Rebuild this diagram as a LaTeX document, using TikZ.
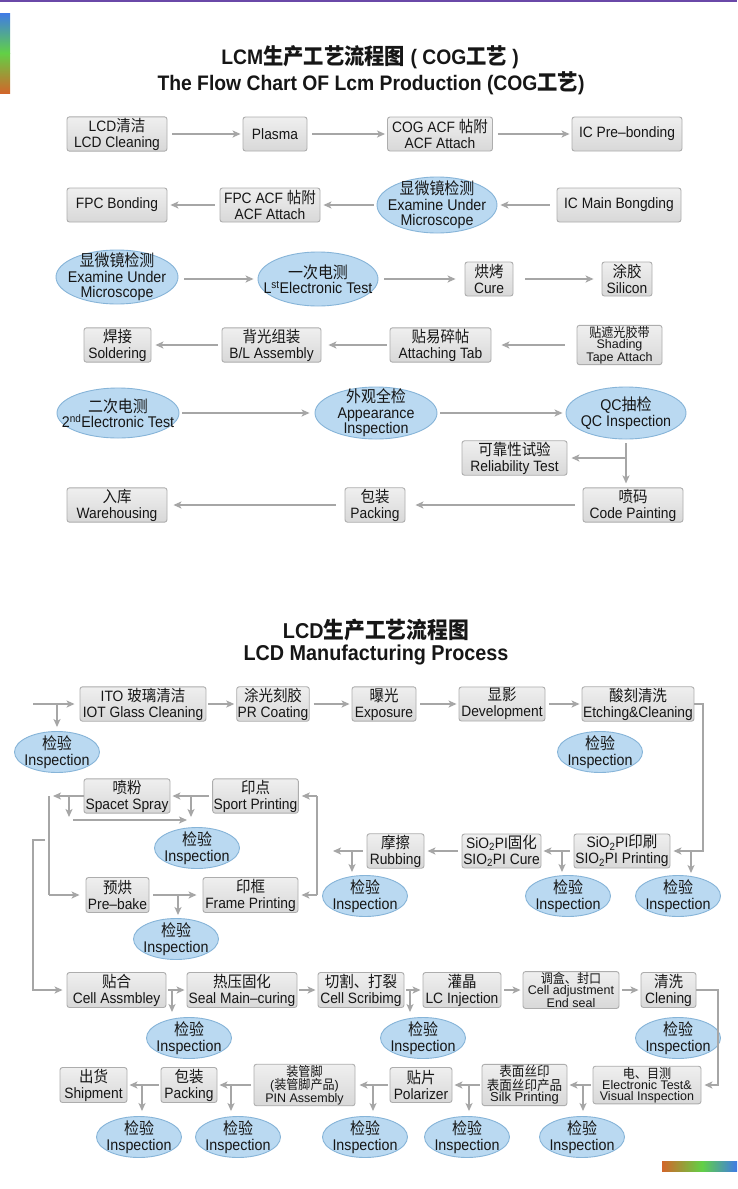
\documentclass[tikz,border=0pt]{standalone}
\usepackage{fontspec}
\setmainfont[FakeStretch=0.92]{Liberation Sans}
\newfontfamily\widef{Liberation Sans}
\newfontfamily\cjkf[FakeStretch=0.92,Scale=1.05]{Noto Sans CJK SC}
\usetikzlibrary{shapes.geometric,arrows.meta}
\newcommand\zh[1]{{\cjkf #1}}
\definecolor{boxtop}{HTML}{EFEFEF}
\definecolor{boxbot}{HTML}{D8D8D8}
\definecolor{boxline}{HTML}{ADADAD}
\definecolor{ellfill}{HTML}{BAD9F1}
\definecolor{elline}{HTML}{86B4D8}
\definecolor{arrcol}{HTML}{A6A6A6}
\definecolor{txt}{HTML}{161616}
\definecolor{topline}{HTML}{6A48A8}
\definecolor{gblue}{HTML}{3F7BE6}
\definecolor{ggreen}{HTML}{62D046}
\definecolor{gorange}{HTML}{D2662A}
\tikzset{
  box/.style={draw=boxline, line width=0.9, rounded corners=2.5, top color=boxtop, bottom color=boxbot,
    inner sep=1, align=center, text=txt, font=\fontsize{15}{16}\selectfont},
  sbox/.style={box, font=\widef\fontsize{12.5}{11}\selectfont},
  ell/.style={ellipse, draw=elline, line width=0.9, fill=ellfill, inner sep=0},
  etxt/.style={align=center, text=txt, font=\fontsize{15.5}{15.5}\selectfont, inner sep=0},
  arr/.style={draw=arrcol, line width=1.6, -{Stealth[length=8pt,width=7pt,inset=2pt]}},
  ln/.style={draw=arrcol, line width=1.6},
  ttl/.style={text=txt, inner sep=0, font=\bfseries\fontsize{21}{24}\selectfont},
}
\newcommand\ellnode[5]{\node[ell, minimum width=#3, minimum height=#4] (#1) at (#2) {};
  \node[etxt] (#1t) at (#1.center) {#5};}
\newcommand\insp[2]{\ellnode{#1}{#2}{85}{41}{\zh{检验}\\Inspection}}
\begin{document}
\begin{tikzpicture}[x=1pt,y=-1pt]
\useasboundingbox (0,0) rectangle (737,1189);
\fill[white] (0,0) rectangle (737,1189);
\fill[topline] (0,0) rectangle (737,2);
\shade[top color=gblue, bottom color=ggreen] (0,13) rectangle (10,53);
\shade[top color=ggreen, bottom color=gorange] (0,53) rectangle (10,93);
\shade[left color=gorange, right color=ggreen] (662,1161) rectangle (702,1171);
\shade[left color=ggreen, right color=gblue] (702,1161) rectangle (737,1171);

% ---------- titles ----------
\node[ttl] (t1) at (370,57) {LCM\zh{生产工艺流程图} ( COG\zh{工艺} )};
\node[ttl] (t2) at (371,83) {The Flow Chart OF Lcm Production (COG\zh{工艺})};
\node[ttl, font=\bfseries\fontsize{21.5}{24}\selectfont] (t3) at (376,630) {LCD\zh{生产工艺流程图}};
\node[ttl, font=\bfseries\fontsize{21.5}{24}\selectfont] (t4) at (376,655) {LCD Manufacturing Process};

% ---------- LCM row 1 ----------
\node[box, minimum width=100, minimum height=34] (n11) at (117,134) {LCD\zh{清洁}\\LCD Cleaning};
\node[box, minimum width=64, minimum height=34] (n12) at (275,134) {Plasma};
\node[box, minimum width=105, minimum height=34] (n13) at (440,134) {COG ACF \zh{帖附}\\ACF Attach};
\node[box, minimum width=110, minimum height=34] (n14) at (627,134) {IC Pre–bonding};
\draw[arr, shorten <=5pt, shorten >=2pt] (n11) -- (n12);
\draw[arr, shorten <=5pt, shorten >=2pt] (n12) -- (n13);
\draw[arr, shorten <=5pt, shorten >=2pt] (n13) -- (n14);

% ---------- LCM row 2 ----------
\node[box, minimum width=100, minimum height=34] (n21) at (117,205) {FPC Bonding};
\node[box, minimum width=100, minimum height=34] (n22) at (270,205) {FPC ACF \zh{帖附}\\ACF Attach};
\ellnode{e23}{437,205}{120}{56}{\zh{显微镜检测}\\Examine Under\\Microscope}
\node[box, minimum width=124, minimum height=34] (n24) at (619,205) {IC Main Bongding};
\draw[arr, shorten <=7pt, shorten >=3pt] (n24) -- (e23);
\draw[arr, shorten <=3pt, shorten >=3pt] (e23) -- (n22);
\draw[arr, shorten <=5pt, shorten >=3pt] (n22) -- (n21);

% ---------- LCM row 3 ----------
\ellnode{e31}{117,277}{122}{54}{\zh{显微镜检测}\\Examine Under\\Microscope}
\ellnode{e32}{318,279}{120}{54}{\zh{一次电测}\\L\textsuperscript{st}Electronic Test}
\node[box, minimum width=48, minimum height=34] (n33) at (489,279) {\zh{烘烤}\\Cure};
\node[box, minimum width=50, minimum height=34] (n34) at (627,279) {\zh{涂胶}\\Silicon};
\draw[arr, shorten <=6pt, shorten >=4pt] (e31.east |- e32.west) -- (e32.west);
\draw[arr, shorten <=6pt, shorten >=9pt] (e32) -- (n33);
\draw[arr, shorten <=12pt, shorten >=8pt] (n33) -- (n34);

% ---------- LCM row 4 ----------
\node[box, minimum width=67, minimum height=34] (n41) at (117.5,345) {\zh{焊接}\\Soldering};
\node[box, minimum width=99, minimum height=34] (n42) at (271.5,345) {\zh{背光组装}\\B/L Assembly};
\node[box, minimum width=101, minimum height=34] (n43) at (440.5,345) {\zh{贴易碎帖}\\Attaching Tab};
\node[sbox, minimum width=85, minimum height=36] (n44) at (619.5,345) {\zh{贴遮光胶带}\\Shading\\Tape Attach};
\draw[arr, shorten <=12pt, shorten >=10pt] (n44) -- (n43);
\draw[arr, shorten <=3pt, shorten >=7pt] (n43) -- (n42);
\draw[arr, shorten <=4pt, shorten >=4pt] (n42) -- (n41);

% ---------- LCM row 5 ----------
\ellnode{e51}{118,413}{122}{50}{\zh{二次电测}\\2\textsuperscript{nd}Electronic Test}
\ellnode{e52}{376,413}{122}{52}{\zh{外观全检}\\Appearance\\Inspection}
\ellnode{e53}{626,413}{120}{52}{QC\zh{抽检}\\QC Inspection}
\draw[arr, shorten <=3pt, shorten >=5pt] (e51) -- (e52);
\draw[arr, shorten <=3pt, shorten >=3pt] (e52) -- (e53);
\node[box, minimum width=105, minimum height=34] (n54) at (514.5,458) {\zh{可靠性试验}\\Reliability Test};
\node[box, minimum width=100, minimum height=34] (n55) at (633,505) {\zh{喷码}\\Code Painting};
\node[box, minimum width=60, minimum height=34] (n56) at (375,505) {\zh{包装}\\Packing};
\node[box, minimum width=100, minimum height=34] (n57) at (117,505) {\zh{入库}\\Warehousing};
\draw[arr, shorten <=4pt, shorten >=4pt] (e53.south) -- (e53.south |- n55.north);
\draw[arr, shorten >=4pt] (e53.south |- n54.east) -- (n54.east);
\draw[arr, shorten <=8pt, shorten >=10pt] (n55) -- (n56);
\draw[arr, shorten <=9pt, shorten >=6pt] (n56) -- (n57);

% ---------- LCD row A ----------
\node[box, minimum width=126, minimum height=34] (a1) at (143,704) {ITO \zh{玻璃清洁}\\IOT Glass Cleaning};
\node[box, minimum width=72, minimum height=34] (a2) at (273,704) {\zh{涂光刻胶}\\PR Coating};
\node[box, minimum width=64, minimum height=34] (a3) at (384,704) {\zh{曝光}\\Exposure};
\node[box, minimum width=86, minimum height=34] (a4) at (502,704) {\zh{显影}\\Development};
\node[box, minimum width=112, minimum height=34] (a5) at (638,704) {\zh{酸刻清洗}\\Etching\&Cleaning};
\insp{ia1}{57,752}
\insp{ia2}{600,752}
\coordinate (in0) at (33,704);
\draw[arr, shorten >=5pt] (in0) -- (a1.west);
\draw[arr, shorten >=4pt] (ia1.north |- a1.west) -- (ia1.north);
\draw[arr, shorten <=2pt, shorten >=2pt] (a1) -- (a2);
\draw[arr, shorten <=4pt, shorten >=2pt] (a2) -- (a3);
\draw[arr, shorten <=4pt, shorten >=2pt] (a3) -- (a4);
\draw[arr, shorten <=4pt, shorten >=2pt] (a4) -- (a5);
\coordinate (rc1) at (703,704);

% ---------- LCD row B ----------
\node[box, minimum width=96, minimum height=34] (b1) at (622,851) {SiO\textsubscript{2}PI\zh{印刷}\\SIO\textsubscript{2}PI Printing};
\node[box, minimum width=79, minimum height=34] (b2) at (501.5,851) {SiO\textsubscript{2}PI\zh{固化}\\SIO\textsubscript{2}PI Cure};
\node[box, minimum width=57, minimum height=34] (b3) at (395.5,851) {\zh{摩擦}\\Rubbing};
\insp{ib1}{678,896}
\insp{ib2}{568,896}
\insp{ib3}{365,896}
\draw[arr, shorten >=3pt] (a5.east) -- (rc1) |- (b1.east);
\coordinate (bb1) at (691,851);
\coordinate (bb2) at (562,851);
\coordinate (bb3) at (352,851);
\coordinate (fr) at (333,851);
\draw[arr, shorten >=2pt] (bb1) -- (bb1 |- ib1.north);
\draw[arr, shorten <=4pt, shorten >=2pt] (b1) -- (b2);
\draw[arr, shorten >=3pt] (bb2) -- (bb2 |- ib2.north);
\draw[arr, shorten <=4pt, shorten >=3pt] (b2) -- (b3);
\draw[arr, shorten <=4pt] (b3.west) -- (fr);
\draw[arr, shorten >=3pt] (bb3) -- (bb3 |- ib3.north);

% ---------- spray / frame loop ----------
\node[box, minimum width=86, minimum height=34] (s1) at (127,796) {\zh{喷粉}\\Spacet Spray};
\node[box, minimum width=85, minimum height=34] (s2) at (255.5,796) {\zh{印点}\\Sport Printing};
\insp{is}{197,848}
\node[box, minimum width=63, minimum height=35] (p1) at (117.5,895) {\zh{预烘}\\Pre–bake};
\node[box, minimum width=95, minimum height=35] (p2) at (250.5,895) {\zh{印框}\\Frame Printing};
\insp{ip}{176,939}
\coordinate (rb1) at (317,796);
\coordinate (rb2) at (317,895);
\draw[ln] (rb1) -- (rb2);
\draw[arr, shorten >=3pt] (rb1) -- (s2.east);
\draw[arr, shorten >=3pt] (rb2) -- (p2.east);
\draw[arr, shorten <=3pt, shorten >=2pt] (s2) -- (s1);
\coordinate (sb1) at (191,796);
\draw[arr, shorten >=10pt] (sb1) -- (sb1 |- is.north);
\coordinate (lv1) at (49,796);
\coordinate (lv2) at (49,895);
\draw[arr, shorten >=4pt] (s1.west) -- (lv1);
\draw[ln] (lv1) -- (lv2);
\draw[arr, shorten >=6pt] (lv2) -- (p1.west);
\coordinate (sd1) at (69,796);
\coordinate (sd2) at (69,817);
\draw[arr] (sd1) -- (sd2);
\coordinate (sh1) at (73,820);
\coordinate (sh2) at (187,820);
\draw[arr] (sh1) -- (sh2);
\draw[arr, shorten <=4pt, shorten >=6pt] (p1) -- (p2);
\coordinate (pb1) at (178,895);
\draw[arr, shorten >=3pt] (pb1) -- (pb1 |- ip.north);

% ---------- LCD row C ----------
\node[box, minimum width=99, minimum height=35] (c1) at (116.5,990) {\zh{贴合}\\Cell Assmbley};
\node[box, minimum width=110, minimum height=35] (c2) at (242,990) {\zh{热压固化}\\Seal Main–curing};
\node[box, minimum width=86, minimum height=35] (c3) at (361,990) {\zh{切割、打裂}\\Cell Scribimg};
\node[box, minimum width=78, minimum height=35] (c4) at (462,990) {\zh{灌晶}\\LC Injection};
\node[sbox, minimum width=96, minimum height=35] (c5) at (571,990) {\zh{调盒、封口}\\Cell adjustment\\End seal};
\node[box, minimum width=55, minimum height=35] (c6) at (668.5,990) {\zh{清洗}\\Clening};
\insp{ic1}{189,1038}
\insp{ic2}{423,1038}
\insp{ic3}{678,1038}
\coordinate (ll1) at (45,840);
\coordinate (ll2) at (33,840);
\draw[arr, shorten >=4pt] (ll1) -- (ll2) |- (c1.west);
\draw[arr, shorten <=2pt, shorten >=2pt] (c1) -- (c2);
\draw[arr, shorten <=2pt, shorten >=2pt] (c2) -- (c3);
\draw[arr, shorten <=2pt, shorten >=2pt] (c3) -- (c4);
\draw[arr, shorten <=3pt, shorten >=2pt] (c4) -- (c5);
\draw[arr, shorten <=3pt, shorten >=2pt] (c5) -- (c6);
\coordinate (cb1) at (172,990);
\coordinate (cb2) at (410,990);
\draw[arr, shorten >=5pt] (cb1) -- (cb1 |- ic1.north);
\draw[arr, shorten >=5pt] (cb2) -- (cb2 |- ic2.north);
\coordinate (rc2) at (718,990);

% ---------- LCD row D ----------
\node[box, minimum width=67, minimum height=35] (d1) at (93.5,1085) {\zh{出货}\\Shipment};
\node[box, minimum width=56, minimum height=35] (d2) at (189,1085) {\zh{包装}\\Packing};
\node[sbox, minimum width=101, minimum height=41] (d3) at (304.5,1085) {\zh{装管脚}\\(\zh{装管脚产品})\\PIN Assembly};
\node[box, minimum width=62, minimum height=35] (d4) at (421,1085) {\zh{贴片}\\Polarizer};
\node[sbox, minimum width=85, minimum height=41, font=\widef\fontsize{13}{11.5}\selectfont] (d5) at (524.5,1085) {\zh{表面丝印}\\\zh{表面丝印产品}\\Silk Printing};
\node[sbox, minimum width=108, minimum height=35] (d6) at (647,1085) {\zh{电、目测}\\Electronic Test\&\\Visual Inspection};
\insp{id1}{139,1137}
\insp{id2}{238,1137}
\insp{id3}{365,1137}
\insp{id4}{467,1137}
\insp{id5}{582,1137}
\draw[arr, shorten >=3pt] (c6.east) -- (rc2) |- (d6.east);
\draw[arr, shorten <=2pt, shorten >=2pt] (d6) -- (d5);
\draw[arr, shorten <=2pt, shorten >=2pt] (d5) -- (d4);
\draw[arr, shorten <=2pt, shorten >=4pt] (d4) -- (d3);
\draw[arr, shorten <=3pt, shorten >=2pt] (d3) -- (d2);
\draw[arr, shorten <=2pt, shorten >=2pt] (d2) -- (d1);
\coordinate (db5) at (583,1085);
\coordinate (db4) at (469,1085);
\coordinate (db3) at (373,1085);
\coordinate (db2) at (231,1085);
\coordinate (db1) at (142,1085);
\draw[arr, shorten >=5pt] (db5) -- (db5 |- id5.north);
\draw[arr, shorten >=5pt] (db4) -- (db4 |- id4.north);
\draw[arr, shorten >=5pt] (db3) -- (db3 |- id3.north);
\draw[arr, shorten >=5pt] (db2) -- (db2 |- id2.north);
\draw[arr, shorten >=5pt] (db1) -- (db1 |- id1.north);
\end{tikzpicture}
\end{document}
